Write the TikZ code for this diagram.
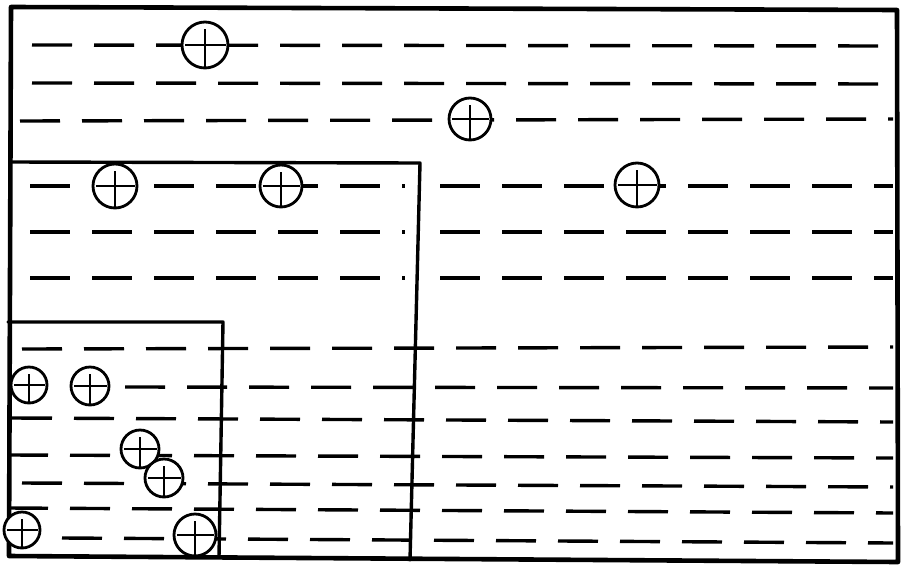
\documentclass[tikz,border=0pt]{standalone}
\begin{document}
\begin{tikzpicture}[x=1pt,y=-1pt,
  wall/.style={line width=4.6pt, line join=round, line cap=round},
  partition/.style={line width=3.4pt, line join=round, line cap=round},
  water/.style={line width=3.4pt, dash pattern=on 40pt off 22pt},
  ion/.style={circle, draw, line width=2.8pt, fill=white, inner sep=0pt,
    path picture={
      \draw[line width=2.8pt] ([xshift=3pt]path picture bounding box.west) -- ([xshift=-2pt]path picture bounding box.east);
      \draw[line width=2.8pt] ([yshift=-7pt]path picture bounding box.north) -- ([yshift=1pt]path picture bounding box.south);
    }}]
\path[use as bounding box] (0,0) rectangle (901,570);

% water rows, top band
\draw[water] (32,45) -- (893,46);
\draw[water] (32,83) -- (893,84);
\draw[water] (20,121) -- (893,119);
% middle band
\foreach \y in {186,232,278}{
  \draw[water] (30,\y) -- (405,\y);
  \draw[water] (440,\y) -- (893,\y);
}
% lower band
\draw[water] (22,349) -- (893,347);
\draw[water] (125,387) -- (893,388);
\draw[water] (12,418) -- (893,422);
\draw[water] (8,455) -- (893,458);
\draw[water] (22,483) -- (893,487);
\draw[water] (8,508) -- (893,513);
\draw[water] (62,538) -- (893,543);

% containers
\draw[wall] (11,7) -- (897,10) -- (898,562) -- (9,556) -- cycle;
\draw[partition] (10,162) -- (420,163) -- (410,560);
\draw[partition] (8,322) -- (223,322) -- (219,557);

% ions
\node[ion, minimum size=46pt] (c1) at (205,45) {};
\node[ion, minimum size=42pt] (c2) at (470,119) {};
\node[ion, minimum size=44pt] (c3) at (115,186) {};
\node[ion, minimum size=42pt] (c4) at (281,186) {};
\node[ion, minimum size=44pt] (c5) at (637,185) {};
\node[ion, minimum size=36pt] (c6) at (29,385) {};
\node[ion, minimum size=38pt] (c7) at (90,386) {};
\node[ion, minimum size=38pt] (c8) at (140,449) {};
\node[ion, minimum size=38pt] (c9) at (164,478) {};
\node[ion, minimum size=36pt] (c10) at (22,530) {};
\node[ion, minimum size=42pt] (c11) at (195,535) {};
\end{tikzpicture}
\end{document}
